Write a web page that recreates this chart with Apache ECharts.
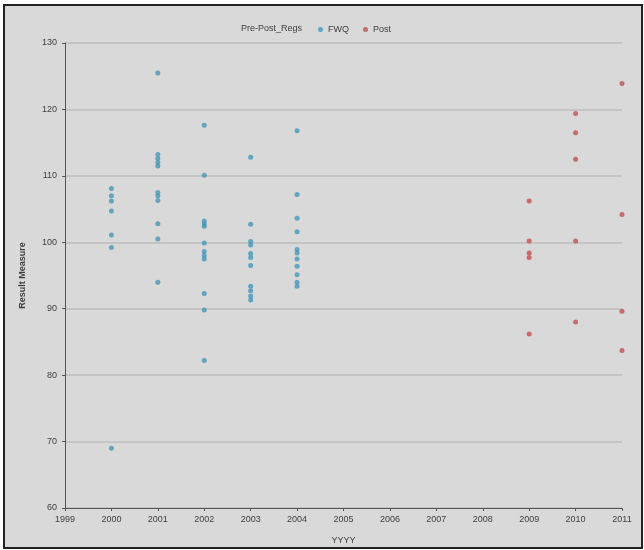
<!DOCTYPE html>
<html>
<head>
<meta charset="utf-8">
<script src="https://cdn.jsdelivr.net/npm/echarts@6/dist/echarts.min.js"></script>
<style>
html,body{margin:0;padding:0;background:#fff;}
#bg{position:absolute;left:3px;top:4px;width:636px;height:541px;border:2px solid #222;background:#d9d9d9;}
#chart{position:absolute;left:0;top:0;width:644px;height:550px;}
</style>
</head>
<body>
<div id="bg"></div>
<div id="chart"></div>
<script>
// Series name labels
var legendTitle = 'Pre-Post_Regs';
var seriesNames = ['FWQ', 'Post'];

// Pre (FWQ) values by year
var fwqYears = [2000, 2001, 2002, 2003, 2004];
var fwq2000 = [108.1, 107.0, 106.2, 104.7, 101.1, 99.2, 69.0];
var fwq2001 = [125.5, 113.2, 112.6, 112.0, 111.5, 107.5, 107.0, 106.3, 102.8, 100.5, 94.0];
var fwq2002 = [117.6, 110.1, 103.2, 102.8, 102.4, 99.9, 98.6, 98.0, 97.5, 92.3, 89.8, 82.2];
var fwq2003 = [112.8, 102.7, 100.1, 99.6, 98.3, 97.7, 96.5, 93.4, 92.7, 91.9, 91.3];
var fwq2004 = [116.8, 107.2, 103.6, 101.6, 98.9, 98.4, 97.5, 96.4, 95.1, 94.0, 93.4];

// Post values by year
var postYears = [2009, 2010, 2011];
var post2009 = [106.2, 100.2, 98.4, 97.7, 86.2];
var post2010 = [119.4, 116.5, 112.5, 100.2, 88.0];
var post2011 = [123.9, 104.2, 89.6, 83.7];

var fwqLists = [fwq2000, fwq2001, fwq2002, fwq2003, fwq2004];
var postLists = [post2009, post2010, post2011];

function toPairs(years, lists){
  var out = [];
  years.forEach(function(y, i){ lists[i].forEach(function(v){ out.push([y, v]); }); });
  return out;
}

var font = 'Liberation Sans';
var txt = '#404040';

var chart = echarts.init(document.getElementById('chart'), null, {renderer:'canvas'});
chart.setOption({
  backgroundColor: 'transparent',
  animation: false,
  title: {
    text: legendTitle, left: 236, top: 19,
    textStyle: {fontFamily: font, fontSize: 9, color: txt, fontWeight: 'normal'}
  },
  legend: {
    left: 313, top: 20, itemWidth: 5, itemHeight: 5, itemGap: 14,
    textStyle: {fontFamily: font, fontSize: 9, color: txt},
    data: [{name: seriesNames[0], icon: 'circle'}, {name: seriesNames[1], icon: 'circle'}]
  },
  grid: {left: 65, right: 22, top: 43, bottom: 40, containLabel: false},
  xAxis: {
    type: 'value', min: 1999, max: 2011, interval: 1,
    name: 'YYYY', nameLocation: 'middle', nameGap: 28,
    nameTextStyle: {fontFamily: font, fontSize: 9, color: txt},
    axisLine: {show: true, onZero: false, lineStyle: {color: '#555', width: 1}},
    axisTick: {show: true, inside: false, length: 3, lineStyle: {color: '#555'}},
    axisLabel: {fontFamily: font, fontSize: 9, color: txt, margin: 7, formatter: function(v){return String(v);}},
    splitLine: {show: false}
  },
  yAxis: {
    type: 'value', min: 60, max: 130, interval: 10,
    name: 'Result Measure', nameLocation: 'middle', nameGap: 38, nameRotate: 90,
    nameTextStyle: {fontFamily: font, fontSize: 9, color: txt, fontWeight: 'bold'},
    axisLine: {show: true, lineStyle: {color: '#555', width: 1}},
    axisTick: {show: true, length: 3, lineStyle: {color: '#555'}},
    axisLabel: {fontFamily: font, fontSize: 9, color: txt, margin: 8},
    splitLine: {show: true, lineStyle: {color: '#bdbdbd', width: 1.5}}
  },
  series: [
    {
      name: seriesNames[0], type: 'scatter', symbol: 'circle', symbolSize: 5,
      itemStyle: {color: '#4596b8'},
      data: toPairs(fwqYears, fwqLists)
    },
    {
      name: seriesNames[1], type: 'scatter', symbol: 'circle', symbolSize: 5,
      itemStyle: {color: '#c0504d'},
      data: toPairs(postYears, postLists)
    }
  ]
});
</script>
</body>
</html>
